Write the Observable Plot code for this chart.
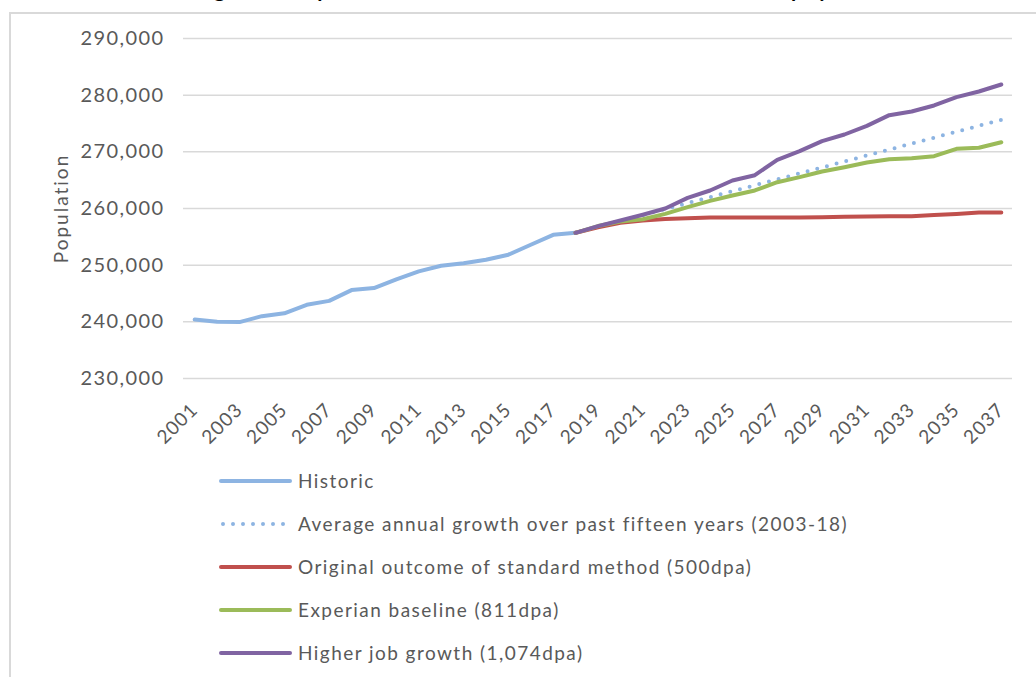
<!DOCTYPE html>
<html>
<head>
<meta charset="utf-8">
<script src="https://cdn.jsdelivr.net/npm/d3@7"></script>
<script src="https://cdn.jsdelivr.net/npm/@observablehq/plot@0.6"></script>
<style>
  html, body { margin: 0; padding: 0; background: #fff; overflow: hidden; }
  body { width: 1036px; height: 677px; position: relative; font-family: Lato, "Open Sans", sans-serif; }
  #title { position: absolute; left: 198px; top: -22px; white-space: nowrap; font: bold 21px Lato, sans-serif; line-height: 21px; letter-spacing: -0.65px; color: #000; }
  #frame { position: absolute; left: 9px; top: 12px; width: 1100px; height: 700px; border-top: 2px solid #d9d9d9; border-left: 2px solid #d9d9d9; }
  #chart { position: absolute; left: 0; top: 0; }
  #chart [aria-label="y-axis tick label"] text { letter-spacing: 1.4px; }
  #chart [aria-label="x-axis tick label"] text { letter-spacing: 1.1px; }
  #chart .ylabel text { letter-spacing: 2px; }
  #legend { position: absolute; left: 218px; top: 459px; color: #595959; font-size: 19px; letter-spacing: 1.45px; }
  .row { display: flex; align-items: center; height: 43px; }
  .row svg { margin-right: 5px; }
</style>
</head>
<body>
<div id="title">Figure 4.2: Population outcomes of the standard method and the employment-led scenarios</div>
<div id="frame"></div>
<div id="chart"></div>
<div id="legend"></div>
<script>
// Historic population, 2001-2018
const historicYears = [2001, 2002, 2003, 2004, 2005, 2006, 2007, 2008, 2009, 2010, 2011, 2012, 2013, 2014, 2015, 2016, 2017, 2018];
const historicValues = [240400, 240000, 239950, 241000, 241500, 243000, 243700, 245600, 245950, 247500, 248900, 249900, 250350, 250950, 251850, 253600, 255350, 255710];

// Projection years, 2018-2037
const projYears = [2018, 2019, 2020, 2021, 2022, 2023, 2024, 2025, 2026, 2027, 2028, 2029, 2030, 2031, 2032, 2033, 2034, 2035, 2036, 2037];
const averageValues = [255710, 256760, 257800, 258850, 259900, 260950, 262000, 263050, 264100, 265150, 266200, 267250, 268300, 269350, 270400, 271450, 272500, 273550, 274600, 275650];
const originalValues = [255710, 256700, 257500, 257900, 258150, 258300, 258400, 258400, 258400, 258400, 258400, 258450, 258550, 258600, 258650, 258650, 258850, 259050, 259300, 259300];
const experianValues = [255710, 256900, 257700, 258100, 259050, 260250, 261350, 262300, 263180, 264640, 265530, 266530, 267290, 268120, 268700, 268880, 269230, 270530, 270710, 271700];
const higherValues = [255710, 256880, 257880, 258900, 260000, 261880, 263180, 264940, 265880, 268590, 270120, 271880, 273060, 274590, 276470, 277120, 278180, 279650, 280650, 281880];

// Axis ticks
const xTicks = [2001, 2003, 2005, 2007, 2009, 2011, 2013, 2015, 2017, 2019, 2021, 2023, 2025, 2027, 2029, 2031, 2033, 2035, 2037];
const yTicks = [230000, 240000, 250000, 260000, 270000, 280000, 290000];

// Series styling, drawn in this order (last on top)
const series = [
  {name: "Historic", years: historicYears, values: historicValues, color: "#8db4e2", dash: null},
  {name: "Average annual growth over past fifteen years (2003-18)", years: projYears, values: averageValues, color: "#8db4e2", dash: "0 10"},
  {name: "Original outcome of standard method (500dpa)", years: projYears, values: originalValues, color: "#c0504d", dash: null},
  {name: "Experian baseline (811dpa)", years: projYears, values: experianValues, color: "#9bbb59", dash: null},
  {name: "Higher job growth (1,074dpa)", years: projYears, values: higherValues, color: "#8064a2", dash: null}
];

const fontFamily = "Lato, 'Open Sans', sans-serif";

const lineMarks = series.map(s => {
  const rows = s.years.map((y, i) => ({year: y, value: s.values[i]}));
  return Plot.line(rows, {
    x: "year", y: "value",
    stroke: s.color, strokeWidth: 4,
    strokeLinecap: "round", strokeLinejoin: "round",
    strokeDasharray: s.dash || undefined
  });
});

const chart = Plot.plot({
  width: 1036,
  height: 460,
  marginTop: 38,
  marginBottom: 82,
  marginLeft: 183,
  marginRight: 24,
  style: {fontFamily, color: "#595959", background: "transparent", overflow: "visible"},
  x: {domain: [2000.5, 2037.5]},
  y: {domain: [230000, 290000]},
  marks: [
    Plot.gridY(yTicks, {stroke: "#d9d9d9", strokeOpacity: 1, strokeWidth: 1.5}),
    Plot.axisY(yTicks, {tickSize: 0, tickPadding: 19, tickFormat: d3.format(","), fontSize: 20, label: null, fill: "#595959"}),
    Plot.axisX(xTicks, {tickSize: 0, tickPadding: 28, tickRotate: -45, tickFormat: d => String(d), fontSize: 19, label: null, fill: "#595959"}),
    Plot.text(["Population"], {frameAnchor: "left", textAnchor: "middle", rotate: -90, dx: -122, fontSize: 19, fill: "#595959", className: "ylabel"}),
    ...lineMarks
  ]
});
document.getElementById("chart").appendChild(chart);

// Legend below the chart
const legend = document.getElementById("legend");
for (const s of series) {
  const row = document.createElement("div");
  row.className = "row";
  const dashAttr = s.dash ? `stroke-dasharray="${s.dash}" stroke-linecap="round"` : `stroke-linecap="round"`;
  row.innerHTML = `<svg width="75" height="10"><line x1="${s.dash ? 5 : 3}" x2="${s.dash ? 70 : 72}" y1="5" y2="5" stroke="${s.color}" stroke-width="4" ${dashAttr}/></svg><span>${s.name}</span>`;
  legend.appendChild(row);
}
</script>
</body>
</html>
